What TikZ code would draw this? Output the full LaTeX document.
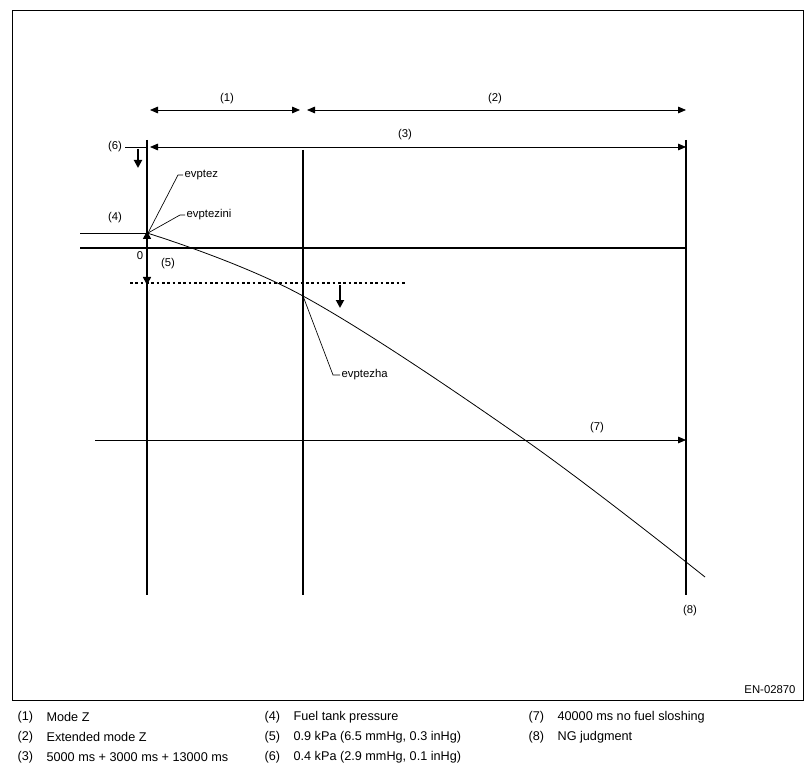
\documentclass[tikz,border=0pt]{standalone}
\usepackage{fontspec}
\setmainfont{Liberation Sans}
\usetikzlibrary{arrows.meta}
\begin{document}
\begin{tikzpicture}[x=0.75pt,y=-0.75pt,
  every node/.style={font=\fontsize{8.5}{10}\selectfont,inner sep=1pt},
  leg/.style={font=\fontsize{9.5}{11}\selectfont,anchor=west},
  thick/.style={line width=2.2pt},
  thin/.style={line width=0.6pt},
  dim/.style={line width=0.6pt,{Triangle[length=6pt,width=5pt]}-{Triangle[length=6pt,width=5pt]}},
  down/.style={line width=1.4pt,-{Triangle[length=6pt,width=6pt]}},
  lead/.style={line width=0.5pt}]
\useasboundingbox (0,0) rectangle (809,780);
\draw[line width=0.7pt] (12,10) rectangle (803,700);
% vertical lines
\draw[thick] (147,140) -- (147,595);
\draw[thick] (303,150) -- (303,595);
\draw[thick] (686,140) -- (686,595);
% zero line
\draw[line width=1.4pt] (80,248) -- (686,248);
% pressure line
\draw[thin] (80,233) -- (147,233);
% dimension arrows
\draw[dim] (150,110) -- (300,110);
\node (l1) at (227,99) {(1)};
\draw[dim] (307,110) -- (686,110);
\node (l2) at (495,99) {(2)};
\draw[dim] (150,147) -- (686,147);
\node (l3) at (405,135) {(3)};
\node (l6) at (115,147) {(6)};
\draw[thin] (125,147) -- (147,147);
\draw[down] (138,149) -- (138,168);
% (5)
\draw[line width=1.2pt,-{Triangle[length=6pt,width=6pt]}] (147,248) -- (147,231);
\draw[line width=1.2pt,-{Triangle[length=6pt,width=6pt]}] (147,248) -- (147,285);
\node (z) at (140,256) {0};
\node (l5) at (168,264) {(5)};
\node (l4) at (115,218) {(4)};
% dotted
\draw[line width=1.2pt,dash pattern=on 2pt off 2pt] (130,283) -- (407,283);
\draw[down] (340,285) -- (340,308);
% (7)
\draw[thin,-{Triangle[length=6pt,width=5pt]}] (95,440) -- (686,440);
\node (l7) at (597,428) {(7)};
\node (l8) at (690,611) {(8)};
% curve
\draw[thin] plot[smooth,tension=0.6] coordinates {(147,233) (303,296) (525,440) (705,577)};
% leaders
\draw[lead] (148,233) -- (178,175) -- (183,175) node[right,inner sep=1pt] (ez) {evptez};
\draw[lead] (148,233) -- (180,215) -- (185,215) node[right,inner sep=1pt] (ezi) {evptezini};
\draw[lead] (303,296) -- (333,375) -- (340,375) node[right,inner sep=1pt] (eh) {evptezha};
\node (en) at (770,690) {EN-02870};
% legend
\foreach \n/\t/\x/\y in {(1)/Mode Z/16/717, (2)/Extended mode Z/16/737, (3)/5000 ms + 3000 ms + 13000 ms/16/757,
  (4)/Fuel tank pressure/263/717, (5)/{0.9 kPa (6.5 mmHg, 0.3 inHg)}/263/737, (6)/{0.4 kPa (2.9 mmHg, 0.1 inHg)}/263/757,
  (7)/40000 ms no fuel sloshing/527/717, (8)/NG judgment/527/737}{
  \node[leg] at (\x,\y) {\n};
  \node[leg] at (\x+29,\y) {\t};
}
\end{tikzpicture}
\end{document}
